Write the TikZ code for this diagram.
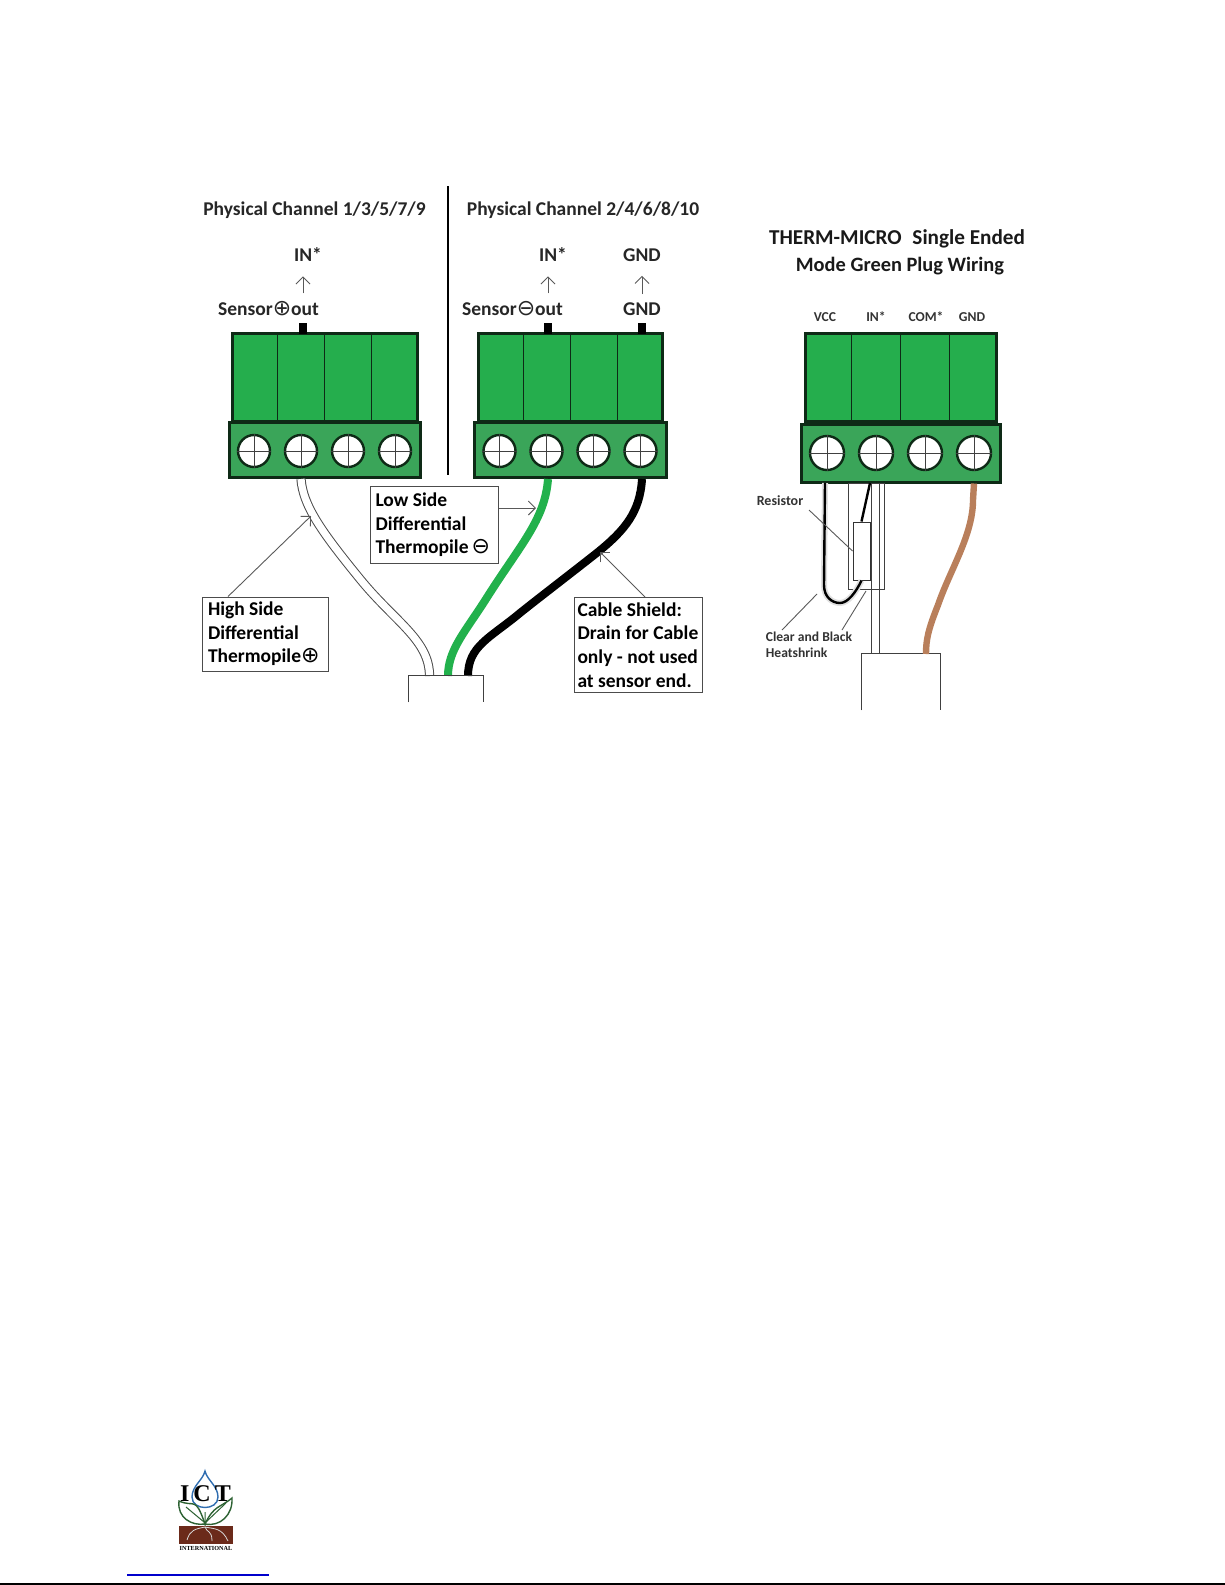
\documentclass[tikz,border=0pt]{standalone}
\usepackage{fontspec}
\setmainfont{Carlito}
\newfontfamily\symfont{DejaVu Sans}
\newfontfamily\logofont{Liberation Serif}
\usepackage{xcolor}
\usetikzlibrary{arrows.meta}
\usetikzlibrary{positioning}
\definecolor{plugtopgreen}{HTML}{25AE4D}
\definecolor{pluglowgreen}{HTML}{3AA559}
\definecolor{plugedge}{HTML}{0E2A16}
\definecolor{wiregreen}{HTML}{22B14C}
\definecolor{wirebrown}{HTML}{B97F5B}
\definecolor{leafgreen}{HTML}{2D6233}
\definecolor{soilbrown}{HTML}{6B2A1A}
\definecolor{dropblue}{HTML}{2F6DB0}
\newcommand{\cplus}{{\symfont\mdseries\fontsize{11}{12}\selectfont ⊕}}
\newcommand{\cminus}{{\symfont\mdseries\fontsize{11}{12}\selectfont ⊖}}
\tikzset{
  plugtop/.style={draw=plugedge,line width=1.5pt,fill=plugtopgreen,minimum height=44pt,inner sep=0},
  pluglow/.style={draw=plugedge,line width=1.5pt,fill=pluglowgreen,inner sep=0},
  screw/.style={circle,draw=plugedge,line width=1.2pt,fill=white,minimum size=16pt,inner sep=0},
  pinblock/.style={fill=black,minimum width=4pt,minimum height=5.5pt,inner sep=0},
  heading/.style={font=\bfseries\fontsize{9.75}{12}\selectfont,inner sep=0,text=black!85},
  bigheading/.style={font=\bfseries\fontsize{10.6}{12}\selectfont,inner sep=0,text=black!90},
  small/.style={font=\bfseries\fontsize{6.8}{8}\selectfont,inner sep=0,text=black!80},
  callout/.style={draw=black!70,line width=.5pt,fill=white,align=flush left,inner ysep=0,
    font=\bfseries\fontsize{9.75}{11.8}\selectfont},
  leader/.style={draw=black!65,line width=.45pt},
  pointer/.style={leader,-{Straight Barb[length=3.5pt,width=7pt,line width=.45pt]}},
  uparrow/.style={pointer,shorten <=4pt,shorten >=7pt},
  colorwire/.style={line width=4pt},
  whitewire/.style={draw=black!70,line width=.5pt,double=white,double distance=3.6pt},
  leaf/.style={draw=leafgreen,line width=.7pt,fill=white},
  rootline/.style={draw=white!85!black,line width=.4pt}
}
\begin{document}
\begin{tikzpicture}[x=.5pt,y=-.5pt]
  \useasboundingbox (0,0) rectangle (1225,1585);
  % the three green plugs
  \foreach \nm/\cx/\uw/\lw/\ly/\lh/\st/\sy/\ssize in
      {a/324.5/185/191/450/55/47/451/16pt,
       b/570/184/192/450/55/47/451/16pt,
       c/900.5/191/199/453/58/49/453/17pt}{
    \node[pluglow,minimum width=\lw*.5pt,minimum height=\lh*.5pt] (low\nm) at (\cx,\ly) {};
    \node[plugtop,minimum width=\uw*.5pt] (top\nm) at (\cx,377.5) {};
    \foreach \i in {1,2,3}
      \draw[plugedge,line width=.5pt] ({\cx+(\i-2)*\st},335) -- ({\cx+(\i-2)*\st},420);
    \foreach \i in {1,2,3,4}{
      \node[screw,minimum size=\ssize] (s\nm\i) at ({\cx+(\i-2.5)*\st},\sy) {};
      \draw[black!75,line width=.4pt] (s\nm\i.west) -- (s\nm\i.east) (s\nm\i.north) -- (s\nm\i.south);
    }
  }
  % left side
  \draw[black,line width=.7pt] (448,186) -- (448,475);
  \node[heading] (titlea) at (314.5,210) {Physical Channel 1/3/5/7/9};
  \node[heading] (titleb) at (583,210) {Physical Channel 2/4/6/8/10};
  \node[pinblock] (pina) at (303,328.5) {};
  \node[pinblock] (pinb) at (548,328.5) {};
  \node[pinblock] (pinc) at (642,328.5) {};
  \node[heading] (ina) at (308,255) {IN*};
  \node[heading] (inb) at (553,255) {IN*};
  \node[heading] (gndtop) at (642,255) {GND};
  \node[heading] (sensora) at (268.5,309) {Sensor\cplus out};
  \node[heading] (sensorb) at (512.5,309) {Sensor\cminus out};
  \node[heading] (gndlow) at (642,309) {GND};
  \draw[uparrow] (pina |- sensora.north) -- (pina |- ina.south);
  \draw[uparrow] (pinb |- sensorb.north) -- (pinb |- inb.south);
  \draw[uparrow] (pinc |- gndlow.north) -- (pinc |- gndtop.south);
  % wires into the cable
  \node[minimum width=37.5pt,minimum height=13pt,inner sep=0] (cablea) at (446,689) {};
  \coordinate (whiteend) at (429.5,676);
  \coordinate (greenend) at (448,676);
  \coordinate (blackend) at (468,676);
  \draw[whitewire] (sa2 |- lowa.south) .. controls (303,505) and (320,530) .. (360,579)
    .. controls (395,622) and (429.5,640) .. (whiteend);
  \draw[wiregreen,colorwire] (pinb |- lowb.south) .. controls (545,520) and (520,545) .. (486,599)
    .. controls (465,632) and (448,650) .. (greenend);
  \draw[black,colorwire] (pinc |- lowb.south) .. controls (640,512) and (625,530) .. (598,552)
    .. controls (565,578) and (540,597) .. (520,613) .. controls (490,638) and (468,646) .. (blackend);
  \draw[black!75,line width=.5pt] (cablea.south west) -- (cablea.north west)
    -- (cablea.north east) -- (cablea.south east);
  % callouts
  \node[callout,text width=57pt,minimum height=37pt,inner xsep=3pt] (highbox) at (265,634)
    {High Side\\Differential\\Thermopile\cplus};
  \node[callout,text width=59pt,minimum height=38.5pt,inner xsep=2.5pt] (lowbox) at (434.5,525)
    {Low Side\\Differential\\Thermopile\hspace{1.5pt}\cminus};
  \node[callout,text width=60.5pt,minimum height=47.5pt,inner xsep=1.75pt] (shieldbox) at (638,645)
    {Cable Shield:\\Drain for Cable\\only - not used\\at sensor end.};
  \coordinate (hightip) at (311,516);
  \coordinate (lowtip) at (536,508);
  \coordinate (shieldtip) at (600,552);
  \draw[pointer] (highbox.north -| 228,0) -- (hightip);
  \draw[pointer] (lowbox.east |- lowtip) -- (lowtip);
  \draw[pointer] (shieldbox.north -| 645,0) -- (shieldtip);
  % right side
  \node[bigheading] (titlec) at (897,239) {THERM-MICRO\hspace{3pt} Single Ended};
  \node[bigheading,font=\bfseries\fontsize{10.2}{12}\selectfont,below=4pt of titlec,xshift=1.5pt] (titled) {Mode Green Plug Wiring};
  \node[small] (vcc) at (825,317) {VCC};
  \node[small] (inc) at (876,317) {IN*};
  \node[small] (com) at (926,317) {COM*};
  \node[small] (gndc) at (972,317) {GND};
  \node[minimum width=39pt,minimum height=28pt,inner sep=0] (cableb) at (901,682) {};
  \draw[black!75,line width=.5pt] (cableb.south west) -- (cableb.north west)
    -- (cableb.north east) -- (cableb.south east);
  \draw[black!75,line width=.5pt] (871,483) -- (871,654) (879,483) -- (879,654);
  \node[draw=black!75,line width=.5pt,minimum width=18pt,minimum height=53pt,inner sep=0] (shrink) at (866,536) {};
  \node[draw=black!80,line width=.5pt,fill=white,minimum width=8.5pt,minimum height=29pt,inner sep=0] (resistor) at (861.5,551) {};
  \coordinate (ubottom) at (840,603);
  \draw[black!12,line width=3pt] (825,483) -- (824,585) .. controls (824,597) and (832,603) .. (ubottom)
    .. controls (848,603) and (856,592) .. (resistor.south);
  \draw[black,line width=1.2pt] (825,483) -- (824,585) .. controls (824,597) and (832,603) .. (ubottom)
    .. controls (848,603) and (856,592) .. (resistor.south);
  \draw[black,line width=1.2pt] (resistor.north) -- (870,483);
  \draw[wirebrown,colorwire,line width=3.2pt] (sc4 |- lowc.south) -- (973,500)
    .. controls (973,535) and (950,570) .. (938,605) .. controls (928,630) and (926,640) .. (926,654);
  \node[small,font=\bfseries\fontsize{7}{8}\selectfont] (reslabel) at (780,501) {Resistor};
  \node[small,align=left] (shrinklabel) at (809,644.5)
    {Clear and Black\\[-.1pt]Heatshrink};
  \draw[leader] (809,510) -- (resistor.west);
  \draw[leader] (782,630) -- (817,594);
  \draw[leader] (842,630) -- (866,591);
  % logo and the lines at the foot of the page
  \path[draw=dropblue,line width=.7pt,fill=white] (205,1471) .. controls (207,1480) and (218,1486) .. (218,1497)
    .. controls (218,1511) and (192,1511) .. (192,1497) .. controls (192,1486) and (203,1480) .. (205,1471) -- cycle;
  \node[inner sep=0,font=\logofont\bfseries\fontsize{12}{14}\selectfont] (logoict) at (205.5,1494) {I\,C\,T};
  \path[leaf] (205,1524) .. controls (195,1495) and (195,1508) .. (179,1501)
    .. controls (177,1518) and (192,1526) .. (205,1524) -- cycle;
  \path[leaf] (205,1524) .. controls (214,1505) and (220,1508) .. (232,1498)
    .. controls (233,1515) and (220,1527) .. (205,1524) -- cycle;
  \draw[leafgreen,line width=.5pt] (205,1526) -- (205,1512) (204,1522) -- (186,1507) (206,1522) -- (226,1503);
  \node[fill=soilbrown,minimum width=26.7pt,minimum height=9pt,inner sep=0] (soil) at (206,1535) {};
  \draw[rootline] (205,1527) .. controls (195,1529) and (190,1530) .. (187,1540)
    (205,1527) .. controls (207,1533) and (212,1530) .. (212,1541)
    (205,1527) .. controls (215,1529) and (222,1528) .. (228,1541);
  \node[inner sep=0,font=\logofont\bfseries\fontsize{3.1}{4}\selectfont] (logointl) at (206,1548) {INTERNATIONAL};
  \draw[blue!80!black,line width=.6pt] (127,1575) -- (269,1575);
  \draw[black,line width=.8pt] (0,1584) -- (1225,1584);
\end{tikzpicture}
\end{document}
